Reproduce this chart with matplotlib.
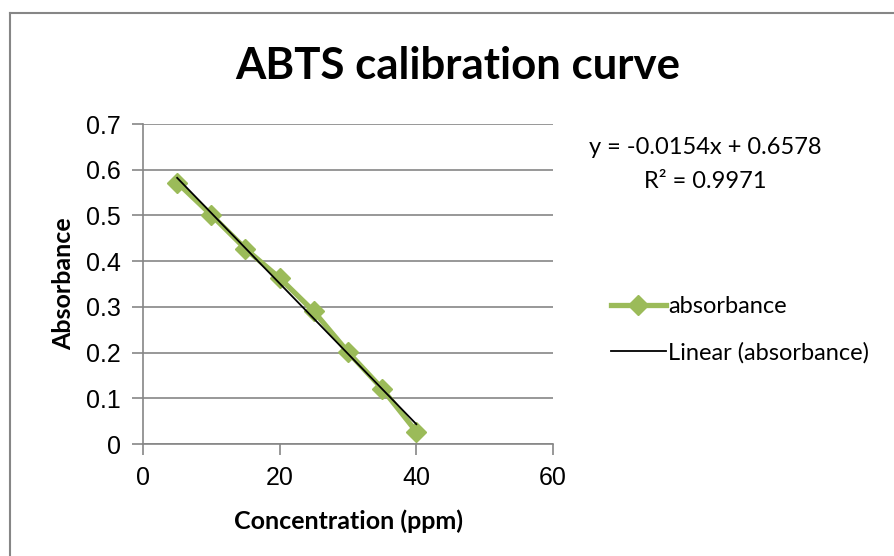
import numpy as np
import matplotlib.pyplot as plt
from matplotlib.lines import Line2D

# data
concentration = [5, 10, 15, 20, 25, 30, 35, 40]
absorbance = [0.572, 0.501, 0.427, 0.363, 0.290, 0.201, 0.121, 0.027]
eq_text = 'y = -0.0154x + 0.6578'
r2_text = 'R² = 0.9971'
x_ticks = [0, 20, 40, 60]
y_ticks = [0, 0.1, 0.2, 0.3, 0.4, 0.5, 0.6, 0.7]

green = '#9BBB59'
grid_gray = '#868686'
tick_font = 'Liberation Sans'
label_font = 'Lato'

fig = plt.figure(figsize=(8.95, 5.56), dpi=100)
ax = fig.add_axes([143 / 895, 112 / 556, 410 / 895, 320 / 556])

# chart area frame (runs off the right and bottom edge)
fig.add_artist(Line2D([10.5 / 895, 10.5 / 895], [0, 1 - 12.5 / 556],
                      transform=fig.transFigure, color=grid_gray, lw=1.5))
fig.add_artist(Line2D([10.5 / 895, 1], [1 - 12.5 / 556, 1 - 12.5 / 556],
                      transform=fig.transFigure, color=grid_gray, lw=1.5))

ax.plot(concentration, absorbance, color=green, lw=3.8, marker='D',
        markersize=10.5, label='absorbance', zorder=3)

# linear trendline
slope, intercept = np.polyfit(concentration, absorbance, 1)
xs = np.array([concentration[0], concentration[-1]])
ax.plot(xs, slope * xs + intercept, color='black', lw=1.3,
        label='Linear (absorbance)', zorder=4)

ax.set_xlim(0, 60)
ax.set_ylim(0, 0.7)
ax.set_xticks(x_ticks)
ax.set_yticks(y_ticks)
ax.set_yticklabels(['0'] + [f'{v:.1f}' for v in y_ticks[1:]])
ax.grid(axis='y', color=grid_gray, lw=1.2)
ax.set_axisbelow(True)
for s in ['top', 'right']:
    ax.spines[s].set_visible(False)
for s in ['left', 'bottom']:
    ax.spines[s].set_color(grid_gray)
    ax.spines[s].set_linewidth(1.2)
ax.tick_params(color=grid_gray, width=1.2, length=8, labelsize=18, pad=8)
for lbl in ax.get_xticklabels() + ax.get_yticklabels():
    lbl.set_family(tick_font)

ax.set_xlabel('Concentration (ppm)', fontsize=18, fontweight='bold',
              family=label_font, labelpad=14)
ax.set_ylabel('Absorbance', fontsize=18, fontweight='bold',
              family=label_font, labelpad=8)
fig.text(458 / 895, 1 - 66 / 556, 'ABTS calibration curve', ha='center',
         va='center', fontsize=31.5, fontweight='bold', family=label_font)

fig.text(705 / 895, 1 - 148 / 556, eq_text, ha='center', va='center',
         fontsize=17, family=label_font)
fig.text(705 / 895, 1 - 181 / 556, r2_text, ha='center', va='center',
         fontsize=17, family=label_font)

leg = ax.legend(loc='center left', bbox_to_anchor=(590 / 895, 1 - 330 / 556),
                bbox_transform=fig.transFigure, frameon=False, numpoints=1,
                handlelength=2.3, handletextpad=0.1, labelspacing=1.05,
                prop={'family': label_font, 'size': 17})

fig.savefig('out.png', dpi=100)
